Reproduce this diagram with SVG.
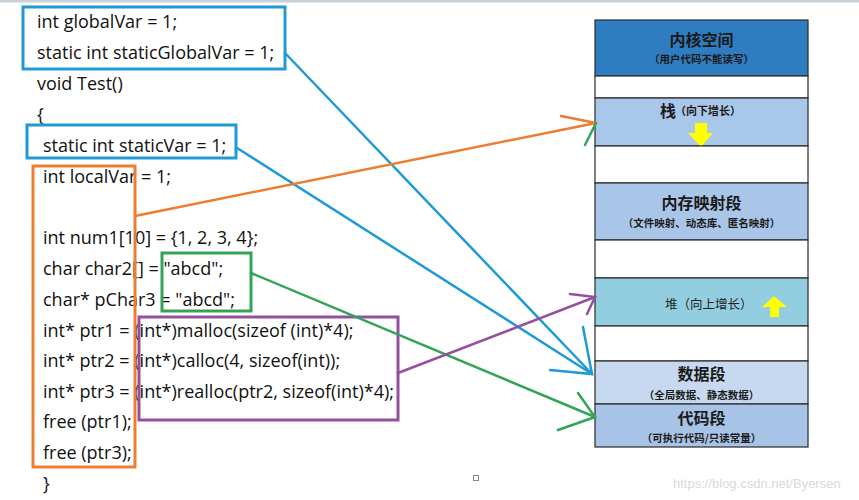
<svg xmlns="http://www.w3.org/2000/svg" width="859" height="500" viewBox="0 0 859 500">
<style>
.code{font-family:"Open Sans","Noto Sans",sans-serif;font-size:18px;fill:#111;}
.seg{stroke:#2b2b2b;stroke-width:1.2;}
.t1{font-family:"Noto Sans CJK SC",sans-serif;font-weight:bold;font-size:16px;fill:#1a1a1a;text-anchor:middle;}
.t2{font-family:"Noto Sans CJK SC",sans-serif;font-weight:bold;font-size:10.5px;fill:#1a1a1a;text-anchor:middle;}
.box{fill:none;stroke-width:3;}
.ln{fill:none;stroke-width:2.5;stroke-linecap:round;}
</style>
<rect x="0" y="0" width="859" height="500" fill="#ffffff"/>
<rect x="0" y="0" width="859" height="2.5" fill="#c9d1d9"/>

<g id="code">
<text class="code" x="37" y="28">int globalVar = 1;</text>
<text class="code" x="37" y="59">static int staticGlobalVar = 1;</text>
<text class="code" x="37" y="90">void Test()</text>
<text class="code" x="37" y="121">{</text>
<text class="code" x="43" y="152">static int staticVar = 1;</text>
<text class="code" x="43" y="183">int localVar = 1;</text>
<text class="code" x="43" y="244">int num1[10] = {1, 2, 3, 4};</text>
<text class="code" x="43" y="275">char char2[] = "abcd";</text>
<text class="code" x="43" y="306">char* pChar3 = "abcd";</text>
<text class="code" x="43" y="337">int* ptr1 = (int*)malloc(sizeof (int)*4);</text>
<text class="code" x="43" y="367">int* ptr2 = (int*)calloc(4, sizeof(int));</text>
<text class="code" x="43" y="398">int* ptr3 = (int*)realloc(ptr2, sizeof(int)*4);</text>
<text class="code" x="43" y="428">free (ptr1);</text>
<text class="code" x="43" y="459">free (ptr3);</text>
<text class="code" x="43" y="490">}</text>
</g>

<g id="box-global"><rect class="box" x="23" y="7" width="262" height="62" stroke="#1f9ad6"/></g>
<g id="box-static"><rect class="box" x="27" y="125" width="209" height="33" stroke="#1f9ad6"/></g>
<g id="box-local"><rect class="box" x="33" y="166" width="102" height="301" stroke="#ed7d31"/></g>
<g id="box-const"><rect class="box" x="162" y="253" width="89" height="58" stroke="#33a457"/></g>
<g id="box-heap"><rect class="box" x="139" y="317" width="259" height="103" stroke="#94509f"/></g>

<g id="memory">
<g id="kernel">
<rect class="seg" x="595" y="20" width="213" height="56" fill="#2f7dc1"/>
<text class="t1" x="701.5" y="46">内核空间</text>
<text class="t2" x="701.5" y="63">（用户代码不能读写）</text>
</g>
<g id="gap1"><rect class="seg" x="595" y="76" width="213" height="22" fill="#ffffff"/></g>
<g id="stack">
<rect class="seg" x="595" y="98" width="213" height="48" fill="#a9c7e9"/>
<text x="660" y="117" font-family="Noto Sans CJK SC,sans-serif" font-weight="bold" font-size="16" fill="#1a1a1a">栈</text>
<text x="675" y="115" font-family="Noto Sans CJK SC,sans-serif" font-weight="bold" font-size="11" fill="#1a1a1a">（向下增长）</text>
<polygon points="695,123 707,123 707,133 713,133 701,147 688,133 695,133" fill="#ffff00"/>
</g>
<g id="gap2"><rect class="seg" x="595" y="146" width="213" height="37" fill="#ffffff"/></g>
<g id="mmap">
<rect class="seg" x="595" y="183" width="213" height="57" fill="#a9c6e8"/>
<text x="701.5" y="209" class="t1" font-size="16.5">内存映射段</text>
<text x="701.5" y="227" class="t2" font-size="11">（文件映射、动态库、匿名映射）</text>
</g>
<g id="gap3"><rect class="seg" x="595" y="240" width="213" height="38" fill="#ffffff"/></g>
<g id="heap">
<rect class="seg" x="595" y="278" width="213" height="48" fill="#93cde0"/>
<text x="665" y="309" font-family="Noto Sans CJK SC,sans-serif" font-size="12.5" fill="#222">堆（向上增长）</text>
<polygon points="774,296 787,307 779,307 779,317 770,317 770,307 762,307" fill="#ffff00"/>
</g>
<g id="gap4"><rect class="seg" x="595" y="326" width="213" height="35" fill="#ffffff"/></g>
<g id="data">
<rect class="seg" x="595" y="361" width="213" height="43" fill="#c6d9f1"/>
<text class="t1" x="701.5" y="380" font-size="17">数据段</text>
<text class="t2" x="701.5" y="399">（全局数据、静态数据）</text>
</g>
<g id="text-seg">
<rect class="seg" x="595" y="404" width="213" height="43" fill="#a7c3e6"/>
<text class="t1" x="701.5" y="424" font-size="17">代码段</text>
<text class="t2" x="701.5" y="442">（可执行代码/只读常量）</text>
</g>
</g>

<g id="connectors">
<path class="ln" stroke="#1f9ad6" d="M285,53 L592,374"/>
<path class="ln" stroke="#1f9ad6" d="M237,148 L592,374"/>
<path class="ln" stroke="#1f9ad6" d="M583,327 L592,374 L550,370"/>
<path class="ln" stroke="#ed7d31" d="M135,216 L596,123"/>
<path class="ln" stroke="#ed7d31" d="M561,116 L596,123"/>
<path class="ln" stroke="#33a457" d="M585,145 L596,123"/>
<path class="ln" stroke="#33a457" d="M251,273 L595,417"/>
<path class="ln" stroke="#33a457" d="M578,393 L595,417 L558,430"/>
<path class="ln" stroke="#94509f" d="M398,373 L595,297"/>
<path class="ln" stroke="#94509f" d="M570,294 L595,297 L587,314"/>
</g>

<rect x="473.5" y="475.5" width="5" height="5" fill="none" stroke="#888" stroke-width="1"/>
<text x="673" y="488" font-family="Liberation Sans,Arial,sans-serif" font-size="13" fill="#d9d9d9">https://blog.csdn.net/Byersen</text>
</svg>
